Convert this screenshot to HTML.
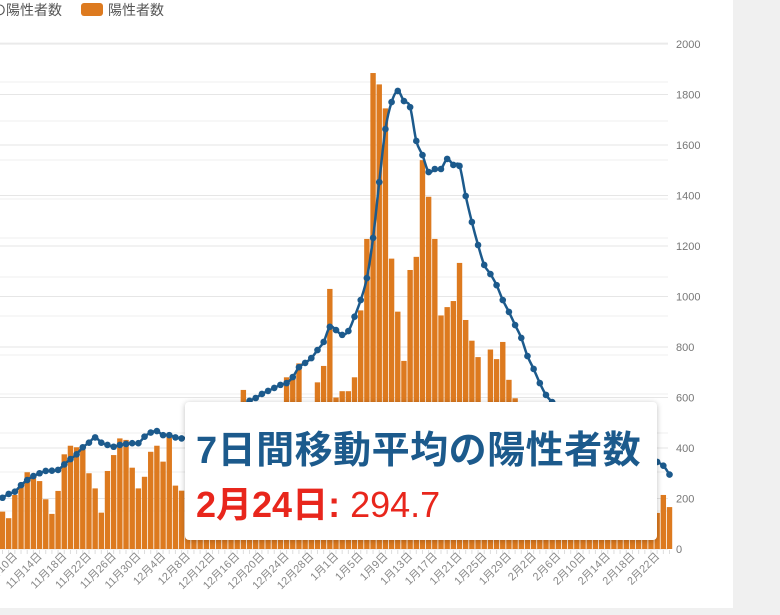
<!DOCTYPE html>
<html><head><meta charset="utf-8">
<style>
html,body{margin:0;padding:0;background:#f0f0f0;}
#wrap{position:relative;width:780px;height:615px;overflow:hidden;background:#f0f0f0;font-family:"Liberation Sans","Noto Sans CJK JP",sans-serif;}
#panel{position:absolute;left:0;top:0;width:733px;height:608px;background:#fff;}
svg{position:absolute;left:0;top:0;}
#tooltip{position:absolute;left:185px;top:402px;width:472px;height:138px;background:#fff;border-radius:4px;box-shadow:0 1px 6px rgba(0,0,0,0.25);}
#tt-title{position:absolute;left:11px;top:17px;font-size:38px;letter-spacing:0.5px;font-weight:bold;color:#1c5a8c;white-space:nowrap;font-family:"Liberation Sans","Noto Sans CJK JP",sans-serif;}
#tt-value{position:absolute;left:11px;top:74px;font-size:36px;color:#e8261c;white-space:nowrap;font-family:"Liberation Sans","Noto Sans CJK JP",sans-serif;}
#tt-value b{font-weight:bold;}
</style></head>
<body>
<div id="wrap">
<div id="panel"></div>
<svg id="chart" width="780" height="615"></svg>
<div id="tooltip">
  <div id="tt-title">7日間移動平均の陽性者数</div>
  <div id="tt-value"><b>2月24日:</b> 294.7</div>
</div>
</div>
<script>
// Daily positives, Nov 8 .. Feb 24
const dailyCases = [148,122,214,253,304,293,269,197,139,230,375,409,403,395,300,240,144,309,372,438,432,322,240,286,385,409,346,445,251,231,
300,380,520,560,470,400,540,560,540,630,560,520,450,570,560,575,680,690,735,520,450,660,725,1030,600,625,625,680,945,1228,1885,
1840,1745,1150,940,745,1105,1157,1540,1395,1228,925,958,982,1133,907,825,760,550,790,752,820,670,597,560,500,420,350,430,
480,470,420,380,300,330,420,400,380,330,260,240,330,300,290,270,220,143,214,166];
// 7-day moving average
const movingAvg = [203,218,227,253,273,289,300,309,310,313,335,356,375,403,421,442,421,412,405,412,416,419,419,445,461,467,451,451,442,438,
440,445,445,440,450,470,500,530,555,570,587,598,614,626,638,650,657,681,720,737,756,788,820,880,867,848,863,920,986,1073,1232,
1453,1663,1770,1814,1774,1750,1616,1560,1493,1505,1505,1545,1521,1517,1398,1295,1204,1125,1089,1045,986,939,887,836,764,713,657,610,582,558,
540,520,500,485,470,455,445,435,425,415,405,395,385,375,360,345,330,294.7];
const yTicks = [0,200,400,600,800,1000,1200,1400,1600,1800,2000];
const startMonth = 11, startDay = 8;

const NS="http://www.w3.org/2000/svg";
const svg=document.getElementById('chart');
const x0=2.5, dx=6.176, yBase=549, yTop=44, yMax=2000;
function xs(i){return x0+dx*i;}
function ys(v){return yBase-(v/yMax)*(yBase-yTop);}
function mk(t,a){const e=document.createElementNS(NS,t);for(const k in a)e.setAttribute(k,a[k]);svg.appendChild(e);return e;}

for(let k=0;k<13;k++){
  const y=43+39*k;
  const g=mk('line',{x1:0,x2:668,y1:y,y2:y,stroke:'#efefef','stroke-width':1});
  
  
}
yTicks.forEach(v=>{
  const y=ys(v);
  const g=mk('line',{x1:0,x2:668,y1:y,y2:y,stroke:'#e6e6e6','stroke-width':1});
  
  
  const t=mk('text',{x:676,y:y+4,'font-size':11,fill:'#777','font-family':'Liberation Sans, sans-serif'});
  t.textContent=v;
  
  
});
dailyCases.forEach((v,i)=>{
  const r=mk('rect',{x:xs(i)-2.7,y:ys(v),width:5.4,height:yBase-ys(v),fill:'#dd7a1f'});
  
  
  const tk=mk('line',{x1:xs(i),x2:xs(i),y1:yBase+1,y2:yBase+5,stroke:'#ddd','stroke-width':1});
  
  
});
const mdays={11:30,12:31,1:31,2:28};
let m=startMonth,d=startDay;
for(let i=0;i<dailyCases.length;i++){
  if((i-2)%4===0){
    const x=xs(i)+3, y=yBase+8;
    const t=mk('text',{x:x,y:y,'font-size':11,fill:'#888','text-anchor':'end',transform:`rotate(-45 ${x} ${y})`,'font-family':'Liberation Sans, Noto Sans CJK JP, sans-serif'});
    t.textContent=m+'月'+d+'日';
    
    
  }
  d++; if(d>mdays[m]){d=1;m=m===12?1:m+1;}
}
const pts=movingAvg.map((v,i)=>[xs(i),ys(v)]);
let p='M'+pts[0][0]+','+pts[0][1];
for(let i=0;i<pts.length-1;i++){
  const a=pts[Math.max(0,i-1)],b=pts[i],c=pts[i+1],e=pts[Math.min(pts.length-1,i+2)];
  const c1=[b[0]+(c[0]-a[0])/6,b[1]+(c[1]-a[1])/6],c2=[c[0]-(e[0]-b[0])/6,c[1]-(e[1]-b[1])/6];
  p+=`C${c1[0]},${c1[1]} ${c2[0]},${c2[1]} ${c[0]},${c[1]}`;
}
const ln=mk('path',{d:p,fill:'none',stroke:'#1c5a8c','stroke-width':2.5});


pts.forEach((q,i)=>{
  const c=mk('circle',{cx:q[0],cy:q[1],r:3.3,fill:'#1c5a8c'});
  
  
});
const lt=mk('text',{x:-8,y:15,'font-size':14,fill:'#555','font-family':'Liberation Sans, Noto Sans CJK JP, sans-serif'});
lt.textContent='の陽性者数';


const sw=mk('rect',{x:81,y:3,width:22,height:13,rx:3,fill:'#dd7a1f'});


const lt2=mk('text',{x:108,y:15,'font-size':14,fill:'#555','font-family':'Liberation Sans, Noto Sans CJK JP, sans-serif'});
lt2.textContent='陽性者数';


</script>
</body></html>
